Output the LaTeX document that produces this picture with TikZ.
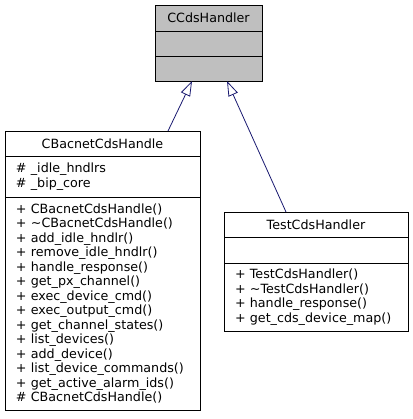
\documentclass[tikz,border=0pt]{standalone}
\usepackage{fontspec}
\setmainfont{DejaVu Sans}
\usepackage{tikz}
\usetikzlibrary{positioning}
\usetikzlibrary{arrows.meta}
\usepackage{xcolor}
\definecolor{inheritblue}{HTML}{191970}
\definecolor{basegray}{HTML}{BFBFBF}

\tikzset{
  classtitle/.style={draw, anchor=north, outer sep=0pt, inner sep=0pt, minimum height=25pt},
  members/.style={draw, anchor=north, outer sep=0pt, inner xsep=11pt, inner ysep=0pt, align=left, text width=#1},
  inherit/.style={draw=inheritblue, line width=0.8pt, >={Triangle[open, length=15pt, width=10pt]}}
}

\begin{document}
\begin{tikzpicture}[x=1pt, y=-1pt, line width=0.9pt, font=\fontsize{12.7}{14.5}\selectfont]
\useasboundingbox (0,0) rectangle (412,419);

% base class
\node [classtitle, fill=basegray, minimum width=107pt, minimum height=26pt] (ccdsTitle) at (208.5,5) {CCdsHandler};
\node [members=85pt, fill=basegray, minimum height=25pt, below=0pt of ccdsTitle] (ccdsAttr) {};
\node [members=85pt, fill=basegray, minimum height=25pt, below=0pt of ccdsAttr] (ccdsMeth) {};

% derived classes
\node [classtitle, minimum width=195pt] (cbacTitle) at (102.5,131) {CBacnetCdsHandle};
\node [members=173pt, minimum height=41pt, below=0pt of cbacTitle] (cbacAttr) {\# \_idle\_hndlrs\\\# \_bip\_core};
\node [members=173pt, minimum height=213pt, below=0pt of cbacAttr] (cbacMeth) {+ CBacnetCdsHandle()\\+ \textasciitilde CBacnetCdsHandle()\\+ add\_idle\_hndlr()\\+ remove\_idle\_hndlr()\\+ handle\_response()\\+ get\_px\_channel()\\+ exec\_device\_cmd()\\+ exec\_output\_cmd()\\+ get\_channel\_states()\\+ list\_devices()\\+ add\_device()\\+ list\_device\_commands()\\+ get\_active\_alarm\_ids()\\\# CBacnetCdsHandle()};

\node [classtitle, minimum width=184pt] (testTitle) at (316,212) {TestCdsHandler};
\node [members=162pt, minimum height=26pt, below=0pt of testTitle] (testAttr) {};
\node [members=162pt, minimum height=68pt, below=0pt of testAttr] (testMeth) {+ TestCdsHandler()\\+ \textasciitilde TestCdsHandler()\\+ handle\_response()\\+ get\_cds\_device\_map()};

\draw [inherit, <-] ([xshift=37pt]ccdsMeth.south west) -- ([xshift=163pt]cbacTitle.north west);
\draw [inherit, <-] ([xshift=72pt]ccdsMeth.south west) -- ([xshift=62pt]testTitle.north west);
\end{tikzpicture}
\end{document}
